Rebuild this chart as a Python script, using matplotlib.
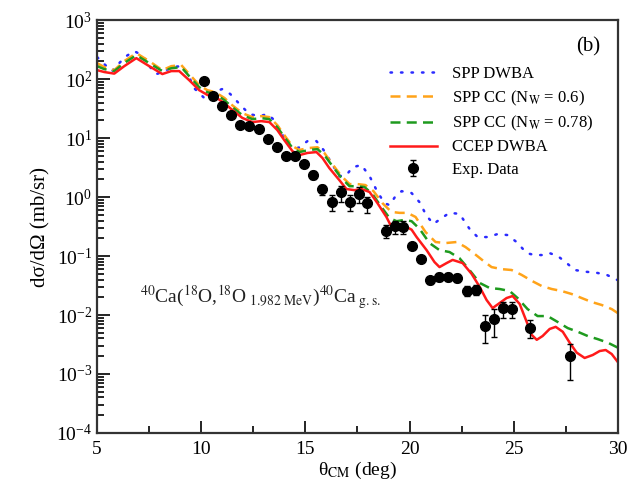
import matplotlib
matplotlib.use("Agg")
import matplotlib.pyplot as plt
import numpy as np
from matplotlib.ticker import LogLocator, MultipleLocator, NullFormatter

plt.rcParams['font.family'] = ['Liberation Serif', 'DejaVu Serif']
plt.rcParams['mathtext.fontset'] = 'stix'

# ---- theory curves (theta_CM in deg, dsigma/dOmega in mb/sr) ----
spp_dwba_theta = [5.0, 5.34, 5.72, 6.06, 6.39, 6.78, 7.16, 7.50, 7.84, 8.17,
                  8.56, 9.04, 9.33, 9.66, 10.14, 10.58, 11.01, 11.39, 11.83, 12.31,
                  12.79, 13.17, 13.51, 13.85, 14.23, 14.66, 15.10, 15.53, 15.87, 16.25,
                  16.63, 16.97, 17.26, 17.69, 18.08, 18.46, 18.80, 19.04, 19.33, 19.62,
                  20.10, 20.48, 20.82, 21.15, 21.54, 21.92, 22.40, 22.88, 23.27, 23.75,
                  24.23, 24.71, 25.14, 25.63, 26.01, 26.35, 26.73, 27.12, 27.55, 27.93,
                  28.51, 28.99, 29.47, 30.0]
spp_dwba = [236, 180, 137, 187, 245, 298, 255, 166, 122, 132,
            160, 166, 127, 70, 48, 60, 68, 56, 38, 25.5,
            23.6, 25.5, 20.2, 12.2, 7.3, 6.8, 8.9, 8.9, 6.3, 3.8,
            2.27, 2.36, 3.2, 3.5, 2.27, 1.22, 0.79, 0.73, 1.04, 1.26,
            1.17, 0.82, 0.48, 0.35, 0.44, 0.54, 0.52, 0.29, 0.21, 0.21,
            0.236, 0.227, 0.173, 0.112, 0.104, 0.104, 0.112, 0.100, 0.076, 0.058,
            0.054, 0.052, 0.048, 0.039]

spp_cc06_theta = [5.0, 5.34, 5.82, 6.30, 6.88, 7.50, 8.13, 8.56, 9.04, 9.42,
                  9.90, 10.29, 10.67, 11.11, 11.49, 11.97, 12.45, 12.88, 13.27, 13.65,
                  13.99, 14.38, 14.71, 15.19, 15.58, 15.91, 16.30, 16.73, 17.12, 17.50,
                  17.88, 18.27, 18.70, 19.13, 19.52, 19.90, 20.29, 20.77, 21.25, 21.73,
                  22.26, 22.69, 23.08, 23.56, 23.94, 24.42, 24.90, 25.38, 25.87, 26.35,
                  26.83, 27.31, 27.79, 28.27, 28.75, 29.23, 29.71, 30.0]
spp_cc06 = [187, 160, 142, 202, 276, 202, 142, 166, 173, 122,
            79, 65, 60, 48, 36, 26.5, 22.7, 23.6, 22.7, 16.6,
            11.2, 7.3, 6.3, 6.8, 7.0, 5.6, 3.6, 2.27, 1.66, 1.66,
            1.60, 1.26, 0.79, 0.56, 0.54, 0.54, 0.46, 0.255, 0.173, 0.166,
            0.173, 0.142, 0.112, 0.082, 0.065, 0.060, 0.058, 0.048, 0.038, 0.031,
            0.0276, 0.0255, 0.0227, 0.0194, 0.0166, 0.0148, 0.0126, 0.0108]

spp_cc078_theta = [5.0, 5.34, 5.82, 6.30, 6.88, 7.50, 8.13, 8.56, 9.04, 9.42,
                   9.90, 10.29, 10.67, 11.11, 11.49, 11.97, 12.45, 12.88, 13.27, 13.65,
                   13.99, 14.38, 14.71, 15.19, 15.58, 15.91, 16.30, 16.73, 17.12, 17.45,
                   17.84, 18.22, 18.65, 19.04, 19.38, 19.76, 20.10, 20.48, 20.96, 21.44,
                   21.92, 22.40, 22.88, 23.37, 23.85, 24.33, 24.81, 25.19, 25.67, 26.15,
                   26.63, 27.12, 27.60, 28.08, 28.56, 29.04, 29.52, 30.0]
spp_cc078 = [166, 148, 137, 187, 255, 187, 137, 153, 160, 112,
             73, 60, 56, 44, 33.5, 24.5, 21, 21.8, 21, 15.3,
             10.4, 6.8, 5.8, 6.3, 6.5, 5.15, 3.35, 2.1, 1.53, 1.53,
             1.48, 1.12, 0.68, 0.44, 0.39, 0.41, 0.39, 0.29, 0.166, 0.126,
             0.117, 0.092, 0.058, 0.035, 0.0287, 0.0276, 0.0255, 0.0194, 0.0126, 0.0096,
             0.0096, 0.0076, 0.0060, 0.0052, 0.0044, 0.0039, 0.0034, 0.0028]

ccep_theta = [5.0, 5.34, 5.82, 6.30, 6.88, 7.50, 8.13, 8.56, 8.94, 9.42,
              9.90, 10.29, 10.67, 11.11, 11.49, 11.97, 12.45, 12.88, 13.27, 13.65,
              13.99, 14.38, 14.71, 15.10, 15.53, 15.82, 16.15, 16.63, 16.97, 17.36,
              17.69, 18.08, 18.46, 18.89, 19.18, 19.52, 19.86, 20.10, 20.34, 20.82,
              21.20, 21.44, 21.78, 22.07, 22.55, 22.98, 23.37, 23.70, 23.99, 24.33,
              24.66, 24.95, 25.29, 25.63, 25.87, 26.11, 26.39, 26.73, 27.02, 27.36,
              27.69, 28.03, 28.41, 28.80, 29.13, 29.42, 29.71, 30.0]
ccep = [142, 132, 124, 166, 227, 166, 122, 137, 137, 96,
        65, 54, 50, 39, 30, 22, 18.7, 19.4, 18.7, 13.7,
        9.2, 6.0, 5.15, 5.6, 5.8, 4.6, 3.1, 1.94, 1.37, 1.31,
        1.37, 1.22, 0.79, 0.46, 0.29, 0.28, 0.31, 0.28, 0.21, 0.126,
        0.079, 0.065, 0.076, 0.086, 0.076, 0.050, 0.030, 0.018, 0.0131, 0.0160,
        0.0194, 0.021, 0.0154, 0.0076, 0.0046, 0.0038, 0.0044, 0.0058, 0.0063, 0.0052,
        0.0034, 0.0023, 0.00187, 0.0021, 0.00245, 0.00255, 0.00218, 0.0016]

# ---- experimental data ----
exp_theta = [10.14, 10.54, 10.99, 11.43, 11.88, 12.31, 12.75, 13.19, 13.64, 14.05,
             14.50, 14.92, 15.37, 15.78, 16.26, 16.72, 17.12, 17.55, 17.97, 18.85,
             19.30, 19.71, 20.10, 20.53, 20.99, 21.42, 21.85, 22.29, 22.76, 23.17,
             23.61, 24.04, 24.49, 24.92, 25.77, 27.69]
exp_val = [92, 52, 35, 24.5, 17, 16, 14, 9.5, 7.1, 5.0,
           5.0, 3.6, 2.4, 1.35, 0.83, 1.2, 0.83, 1.13, 0.78, 0.265,
           0.32, 0.31, 0.15, 0.089, 0.039, 0.044, 0.045, 0.043, 0.026, 0.027,
           0.0066, 0.0085, 0.0129, 0.0126, 0.0061, 0.0020]
exp_rel_err = [0.1, 0.1, 0.1, 0.1, 0.1, 0.1, 0.1, 0.1, 0.1, 0.1,
               0.1, 0.1, 0.15, 0.2, 0.3, 0.3, 0.3, 0.3, 0.3, 0.25,
               0.25, 0.25, 0.1, 0.1, 0.15, 0.15, 0.15, 0.15, 0.2, 0.2,
               0.5, 0.5, 0.3, 0.3, 0.33, 0.6]

y_major = [1e-4, 1e-3, 1e-2, 1e-1, 1e0, 1e1, 1e2, 1e3]

fig = plt.figure(figsize=(6.31, 4.92), dpi=100)
ax = fig.add_axes([0.154, 0.120, 0.825, 0.839])

ax.plot(spp_dwba_theta, spp_dwba, color='#2b2bff', lw=1.8, dashes=(0.6, 3.6),
        dash_capstyle='round', label='SPP DWBA')
ax.plot(spp_cc06_theta, spp_cc06, color='#ffa319', lw=1.8, dashes=(4, 2.5),
        label=r'SPP CC (N$_\mathrm{W}$ = 0.6)')
ax.plot(spp_cc078_theta, spp_cc078, color='#1e9a1e', lw=1.8, dashes=(4, 2.5),
        label=r'SPP CC (N$_\mathrm{W}$ = 0.78)')
ax.plot(ccep_theta, ccep, color='#ff1a1a', lw=1.8, label='CCEP DWBA')

yerr = np.array(exp_val) * np.array(exp_rel_err)
ax.errorbar(exp_theta, exp_val, yerr=yerr, fmt='o', color='black', ms=7,
            elinewidth=1.0, capsize=2, label='Exp. Data', zorder=5)

ax.set_yscale('log')
ax.set_xlim(5, 30)
ax.set_ylim(1e-4, 1e3)
ax.xaxis.set_major_locator(MultipleLocator(5))
ax.xaxis.set_minor_locator(MultipleLocator(2.5))
ax.set_yticks(y_major)
ax.yaxis.set_minor_locator(LogLocator(base=10, subs=np.arange(2, 10), numticks=20))
ax.yaxis.set_minor_formatter(NullFormatter())
ax.tick_params(which='both', direction='in', labelsize=14, width=1.2)
ax.tick_params(which='major', length=9)
ax.tick_params(which='minor', length=5)
ax.tick_params(axis='x', which='major', pad=6)
for s in ax.spines.values():
    s.set_linewidth(1.6)
    s.set_color('#333333')

ax.set_xlabel(r'θ$_\mathrm{CM}$ (deg)', fontsize=14, labelpad=1)
ax.set_ylabel('dσ/dΩ (mb/sr)', fontsize=15, labelpad=4)

ax.text(0.944, 0.935, '(b)', transform=ax.transAxes, fontsize=15,
        ha='center', va='center')
ax.text(0.083, 0.33,
        r'$^{40}$Ca($^{18}$O,$^{18}$O$_{\ 1.982\ \mathrm{MeV}}$)$^{40}$Ca$_{\ \mathrm{g.s.}}$',
        transform=ax.transAxes, fontsize=14, ha='left', va='center', color='#222222')

ax.legend(loc='upper left', bbox_to_anchor=(0.55, 0.905), frameon=False,
          fontsize=12, handlelength=2.8, labelspacing=0.38, handletextpad=0.9,
          borderaxespad=0)

fig.savefig('out.png', dpi=100)
